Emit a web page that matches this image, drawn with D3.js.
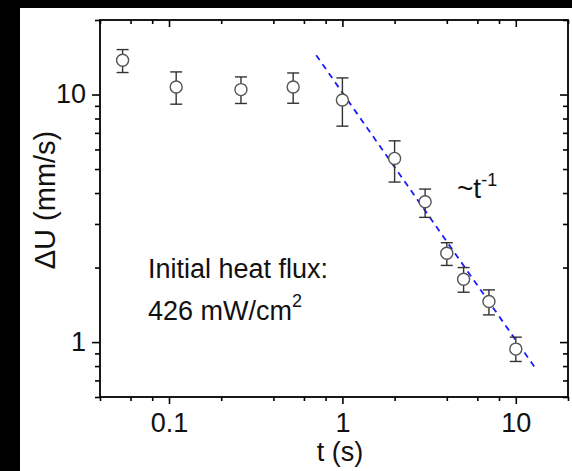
<!DOCTYPE html>
<html lang="en">
<head>
    <meta charset="UTF-8">
    <title>dU vs t</title>
    <style>
        body { margin: 0; background: #000; }
        svg text { font-family: "Liberation Sans", Arial, sans-serif; fill: #111; }
    </style>
</head>
<body>
    <div class="container"></div>
    <script src="https://cdn.jsdelivr.net/npm/d3@7"></script>
    <script>
        // data
        const times = [0.054, 0.11, 0.26, 0.52, 1.0, 2.0, 3.0, 4.0, 5.0, 7.0, 10.0]
        const dU = [13.75, 10.73, 10.47, 10.73, 9.5, 5.52, 3.69, 2.285, 1.795, 1.458, 0.937]
        const dUHigh = [15.19, 12.34, 11.78, 12.22, 11.67, 6.50, 4.15, 2.52, 2.00, 1.625, 1.047]
        const dULow = [12.27, 9.14, 9.20, 9.22, 7.45, 4.43, 3.19, 2.04, 1.59, 1.288, 0.835]

        const fitT = [0.706, 13.07]
        const fitU = [14.42, 0.779]

        const xMajor = [0.1, 1, 10]
        const xMinor = [0.04, 0.06, 0.08, 0.2, 0.4, 0.6, 0.8, 2, 4, 6, 8, 20]
        const yMajor = [1, 10]
        const yMinor = [0.6, 0.7, 0.8, 0.9, 2, 3, 4, 5, 6, 7, 8, 9, 20]

        const width = 572
        const height = 471
        const mLeft = 100, mRight = 568, mTop = 20, mBottom = 397

        const svg = d3.select('.container').append("svg")
            .attr("width", width)
            .attr("height", height)
            .style("display", "block")

        svg.append("rect").attr("width", width).attr("height", height).attr("fill", "#000")
        svg.append("rect").attr("x", 20).attr("y", 8)
            .attr("width", width - 20).attr("height", height - 8).attr("fill", "#fff")

        const x = d3.scaleLog().domain([0.04, 20]).range([mLeft, mRight])
        const y = d3.scaleLog().domain([0.6, 20]).range([mBottom, mTop])

        const fmt = d => d < 1 ? d3.format(".1f")(d) : d3.format("d")(d)

        function addAxis(axis, tx, ty) {
            const g = svg.append("g")
                .attr("transform", `translate(${tx},${ty})`)
                .call(axis)
            g.select(".domain").remove()
            g.selectAll("line").attr("stroke", "#000").attr("stroke-width", 1.6)
            return g
        }

        // bottom
        const bx = addAxis(d3.axisBottom(x).tickValues(xMajor).tickFormat(fmt).tickSize(7), 0, mBottom)
        bx.selectAll("text").attr("y", 35).attr("dy", 0).attr("font-size", 27)
        addAxis(d3.axisBottom(x).tickValues(xMinor).tickFormat("").tickSize(4), 0, mBottom)
        // top, inward
        addAxis(d3.axisTop(x).tickValues(xMajor).tickFormat("").tickSize(-7), 0, mTop)
        addAxis(d3.axisTop(x).tickValues(xMinor).tickFormat("").tickSize(-4), 0, mTop)
        // left
        const ly = addAxis(d3.axisLeft(y).tickValues(yMajor).tickFormat(fmt).tickSize(8).tickPadding(6), mLeft, 0)
        ly.selectAll("text").attr("font-size", 27).attr("dy", "0.3em")
        addAxis(d3.axisLeft(y).tickValues(yMinor).tickFormat("").tickSize(5), mLeft, 0)
        // right, inward
        addAxis(d3.axisRight(y).tickValues(yMajor).tickFormat("").tickSize(-8), mRight, 0)
        addAxis(d3.axisRight(y).tickValues(yMinor).tickFormat("").tickSize(-5), mRight, 0)

        // frame
        svg.append("rect")
            .attr("x", mLeft).attr("y", mTop)
            .attr("width", mRight - mLeft).attr("height", mBottom - mTop)
            .attr("fill", "none").attr("stroke", "#000").attr("stroke-width", 1.8)

        // fit line
        svg.append("path")
            .datum(d3.zip(fitT, fitU))
            .attr("d", d3.line().x(d => x(d[0])).y(d => y(d[1])))
            .attr("fill", "none")
            .attr("stroke", "#1a1aff")
            .attr("stroke-width", 1.8)
            .attr("stroke-dasharray", "6,5")

        const pts = times.map((t, i) => ({ t, u: dU[i], hi: dUHigh[i], lo: dULow[i] }))

        const err = svg.append("g").attr("stroke", "#333").attr("stroke-width", 1.4)
        err.selectAll(".bar").data(pts).join("line").attr("class", "bar")
            .attr("x1", d => x(d.t)).attr("x2", d => x(d.t))
            .attr("y1", d => y(d.hi)).attr("y2", d => y(d.lo))
        err.selectAll(".capH").data(pts).join("line").attr("class", "capH")
            .attr("x1", d => x(d.t) - 6).attr("x2", d => x(d.t) + 6)
            .attr("y1", d => y(d.hi)).attr("y2", d => y(d.hi))
        err.selectAll(".capL").data(pts).join("line").attr("class", "capL")
            .attr("x1", d => x(d.t) - 6).attr("x2", d => x(d.t) + 6)
            .attr("y1", d => y(d.lo)).attr("y2", d => y(d.lo))

        svg.append("g").selectAll("circle").data(pts).join("circle")
            .attr("cx", d => x(d.t)).attr("cy", d => y(d.u))
            .attr("r", 6)
            .attr("fill", "#fff")
            .attr("stroke", "#555")
            .attr("stroke-width", 1.4)

        // labels
        svg.append("text")
            .attr("x", 340).attr("y", 461)
            .attr("text-anchor", "middle").attr("font-size", 27)
            .text("t (s)")

        svg.append("text")
            .attr("transform", "translate(55,200) rotate(-90)")
            .attr("text-anchor", "middle").attr("font-size", 29)
            .text("ΔU (mm/s)")

        svg.append("text").attr("x", 148).attr("y", 278).attr("font-size", 27)
            .text("Initial heat flux:")
        const l2 = svg.append("text").attr("x", 148).attr("y", 320).attr("font-size", 27)
        l2.append("tspan").text("426 mW/cm")
        l2.append("tspan").attr("dy", -13).attr("font-size", 18).text("2")

        const tl = svg.append("text").attr("x", 457).attr("y", 198).attr("font-size", 28)
        tl.append("tspan").text("~t")
        tl.append("tspan").attr("dy", -12).attr("font-size", 18).text("-1")
    </script>
</body>
</html>
